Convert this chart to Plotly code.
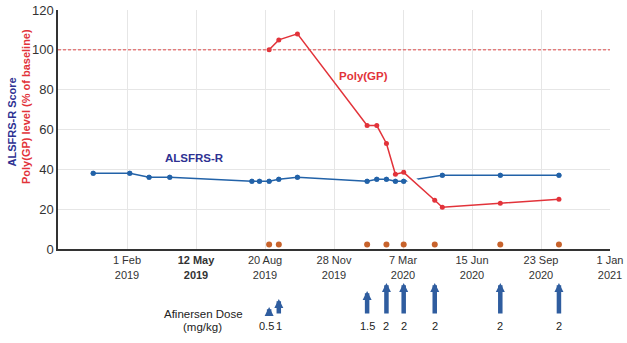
import plotly.graph_objects as go

# ALSFRS-R functional score visits
alsfrs_dates = ["2018-12-14", "2019-02-05", "2019-03-05", "2019-04-04", "2019-08-01",
                "2019-08-12", "2019-08-26", "2019-09-09", "2019-10-06", "2020-01-15",
                "2020-01-29", "2020-02-12", "2020-02-25", "2020-03-08", "2020-05-03",
                "2020-07-26", "2020-10-19"]
alsfrs_scores = [38, 38, 36, 36, 34, 34, 34, 35, 36, 34, 35, 35, 34, 34, 37, 37, 37]

# CSF poly(GP) level, % of baseline
polygp_dates = ["2019-08-26", "2019-09-09", "2019-10-06", "2020-01-15", "2020-01-29",
                "2020-02-12", "2020-02-25", "2020-03-08", "2020-04-22", "2020-05-03",
                "2020-07-26", "2020-10-19"]
polygp_levels = [100, 105, 108, 62, 62, 53, 37.5, 38.5, 24.5, 21, 23, 25]

# Afinersen dosing days and doses (mg/kg)
dose_dates = ["2019-08-26", "2019-09-09", "2020-01-15", "2020-02-12", "2020-03-08",
              "2020-04-22", "2020-07-26", "2020-10-19"]
dose_mgkg = [0.5, 1, 1.5, 2, 2, 2, 2, 2]
dose_labels = ["0.5", "1", "1.5", "2", "2", "2", "2", "2"]

baseline_pct = 100

tick_dates = ["2019-02-01", "2019-05-12", "2019-08-20", "2019-11-28", "2020-03-07",
              "2020-06-15", "2020-09-23", "2021-01-01"]
tick_labels = ["1 Feb<br>2019", "<b>12 May<br>2019</b>", "20 Aug<br>2019", "28 Nov<br>2019",
               "7 Mar<br>2020", "15 Jun<br>2020", "23 Sep<br>2020", "1 Jan<br>2021"]

FONT = "Liberation Sans, Arial, sans-serif"
RED = "#e2333a"
BLUE = "#2262a8"
NAVY = "#2e3192"
ORANGE = "#c8632c"
ARROW = "#2f5d9f"

W, H = 627, 343
ML, MR, MT, MB = 58, 17, 10, 15
PLOT_W = W - ML - MR
PLOT_H = H - MT - MB
CHART_BOTTOM_PX = 249          # pixel row of the y = 0 line
ARROW_BASE_PX = 315            # pixel row where dose arrows start
ARROW_PX_PER_MGKG = 16


def px_x(px):
    return (px - ML) / PLOT_W


def px_y(py):
    return (H - MB - py) / PLOT_H


fig = go.Figure()

# ALSFRS-R line
fig.add_trace(go.Scatter(
    x=alsfrs_dates, y=alsfrs_scores, mode="lines+markers",
    line=dict(color=BLUE, width=1.5), marker=dict(color=BLUE, size=5),
    showlegend=False, hoverinfo="skip"))

# white halo where the poly(GP) line crosses the ALSFRS-R line
fig.add_trace(go.Scatter(
    x=polygp_dates[7:9], y=polygp_levels[7:9], mode="lines",
    line=dict(color="white", width=8), showlegend=False, hoverinfo="skip"))

# ALSFRS-R visit markers on top of the halo
fig.add_trace(go.Scatter(
    x=alsfrs_dates, y=alsfrs_scores, mode="markers",
    marker=dict(color=BLUE, size=5), showlegend=False, hoverinfo="skip"))

# Poly(GP) line
fig.add_trace(go.Scatter(
    x=polygp_dates, y=polygp_levels, mode="lines+markers",
    line=dict(color=RED, width=1.5), marker=dict(color=RED, size=5),
    showlegend=False, hoverinfo="skip"))

# dosing-day markers along the bottom
fig.add_trace(go.Scatter(
    x=dose_dates, y=[2.2] * len(dose_dates), mode="markers",
    marker=dict(color=ORANGE, size=6), showlegend=False, hoverinfo="skip"))

# baseline reference line at 100 %
fig.add_shape(type="line", xref="paper", x0=0, x1=1, yref="y", y0=baseline_pct, y1=baseline_pct,
              line=dict(color="#e04848", width=1, dash="3px,2px"))

annotations = []
# dose arrows below the chart, length proportional to dose
for d, v, lab in zip(dose_dates, dose_mgkg, dose_labels):
    length = v * ARROW_PX_PER_MGKG
    annotations.append(dict(
        x=d, y=px_y(ARROW_BASE_PX - length), xref="x", yref="paper",
        ax=0, ay=length, text="", showarrow=True, arrowhead=2, arrowsize=0.4,
        arrowwidth=4.5, arrowcolor=ARROW))
    annotations.append(dict(
        x=d, y=px_y(326), xref="x", yref="paper", xanchor="center", yanchor="middle",
        xshift=-3 if len(lab) == 3 and v < 1 else 0,
        text=lab, showarrow=False, font=dict(family=FONT, size=11, color="#222222")))

annotations += [
    dict(x=px_x(203), y=px_y(314), xref="paper", yref="paper", xanchor="center",
         yanchor="middle", text="Afinersen Dose",
         showarrow=False, font=dict(family=FONT, size=11.5, color="#222222")),
    dict(x=px_x(202), y=px_y(327), xref="paper", yref="paper", xanchor="center",
         yanchor="middle", text="(mg/kg)",
         showarrow=False, font=dict(family=FONT, size=11.5, color="#222222")),
    # series labels
    dict(x="2019-05-10", y=45.5, xref="x", yref="y", text="<b>ALSFRS-R</b>", showarrow=False,
         font=dict(family=FONT, size=11.5, color=NAVY)),
    dict(x="2020-01-10", y=87, xref="x", yref="y", text="<b>Poly(GP)</b>", showarrow=False,
         font=dict(family=FONT, size=11.5, color=RED)),
    # two-coloured axis title
    dict(x=px_x(11.5), y=px_y(122), xref="paper", yref="paper", xanchor="center",
         yanchor="middle", text="<b>ALSFRS-R Score</b>",
         textangle=-90, showarrow=False, font=dict(family=FONT, size=11, color=NAVY)),
    dict(x=px_x(26), y=px_y(107), xref="paper", yref="paper", xanchor="center",
         yanchor="middle", text="<b>Poly(GP) level (% of baseline)</b>", textangle=-90,
         showarrow=False, font=dict(family=FONT, size=11, color=RED)),
]

fig.update_layout(
    width=W, height=H,
    margin=dict(l=ML, r=MR, t=MT, b=MB, autoexpand=False),
    paper_bgcolor="white", plot_bgcolor="white",
    font=dict(family=FONT, color="#333333"),
    xaxis=dict(
        type="date", range=["2018-10-24", "2021-01-01"],
        tickmode="array", tickvals=tick_dates, ticktext=tick_labels,
        tickfont=dict(size=11, color="#333333"),
        showgrid=True, gridcolor="#e6e6e6", gridwidth=1,
        showline=True, linecolor="#333333", linewidth=2,
        zeroline=False, ticks="", automargin=False),
    yaxis=dict(
        domain=[px_y(CHART_BOTTOM_PX), 1], range=[0, 120],
        tickvals=[0, 20, 40, 60, 80, 100, 120],
        tickfont=dict(size=13, color="#333333"),
        showgrid=True, gridcolor="#e6e6e6", gridwidth=1,
        showline=True, linecolor="#333333", linewidth=1.5,
        zeroline=False, ticks="", automargin=False),
    annotations=annotations,
)

fig.write_html("out.html")
